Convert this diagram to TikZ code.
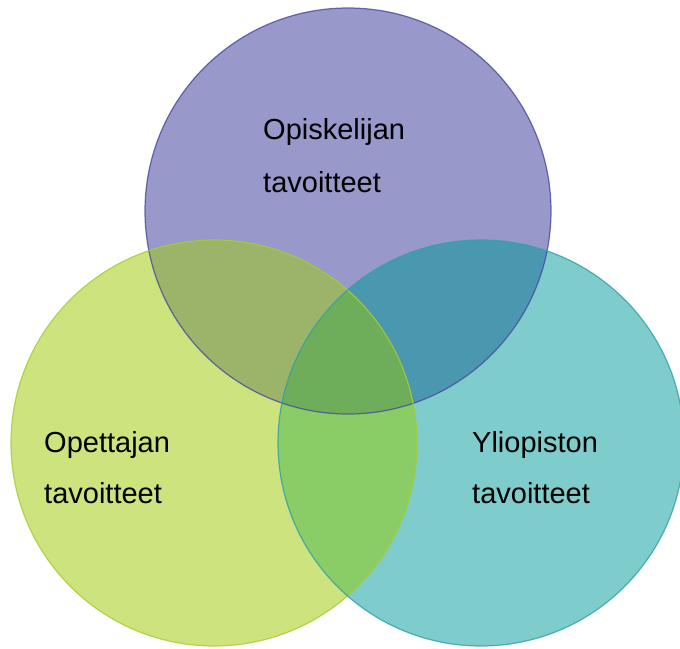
\documentclass[tikz,border=0pt]{standalone}
\usepackage{fontspec}
\setmainfont{Liberation Sans}
\definecolor{topF}{HTML}{9898CA}
\definecolor{leftF}{HTML}{CCE37E}
\definecolor{rightF}{HTML}{7ECCCC}
\definecolor{tlF}{HTML}{9BB46A}
\definecolor{trF}{HTML}{4A98B0}
\definecolor{lrF}{HTML}{8ACC66}
\definecolor{allF}{HTML}{6EAE5A}
\definecolor{topB}{HTML}{4848A0}
\definecolor{leftB}{HTML}{A8CC30}
\definecolor{rightB}{HTML}{30A0A8}
\tikzset{lbl/.style={anchor=base west, inner sep=0pt, font=\fontsize{29}{29}\selectfont, text=black}}
\begin{document}
\begin{tikzpicture}[x=1pt,y=-1pt]
\useasboundingbox (0,0) rectangle (680,648);
\def\R{203}
\coordinate (T) at (348,211);
\coordinate (L) at (214,443);
\coordinate (Rt) at (481,443);
\fill[topF] (T) circle (\R);
\fill[leftF] (L) circle (\R);
\fill[rightF] (Rt) circle (\R);
\begin{scope}\clip (T) circle (\R); \fill[tlF] (L) circle (\R); \fill[trF] (Rt) circle (\R);\end{scope}
\begin{scope}\clip (L) circle (\R); \fill[lrF] (Rt) circle (\R);\end{scope}
\begin{scope}\clip (T) circle (\R); \clip (L) circle (\R); \fill[allF] (Rt) circle (\R);\end{scope}
\draw[topB, line width=1.2pt, opacity=0.8] (T) circle (\R);
\draw[leftB, line width=1.2pt, opacity=0.8] (L) circle (\R);
\draw[rightB, line width=1.2pt, opacity=0.8] (Rt) circle (\R);
\node[lbl] (t1) at (263,139) {Opiskelijan};
\node[lbl] (t2) at (263,192) {tavoitteet};
\node[lbl] (l1) at (44,452) {Opettajan};
\node[lbl] (l2) at (44,503) {tavoitteet};
\node[lbl] (r1) at (472,452) {Yliopiston};
\node[lbl] (r2) at (472,503) {tavoitteet};
\end{tikzpicture}
\end{document}
